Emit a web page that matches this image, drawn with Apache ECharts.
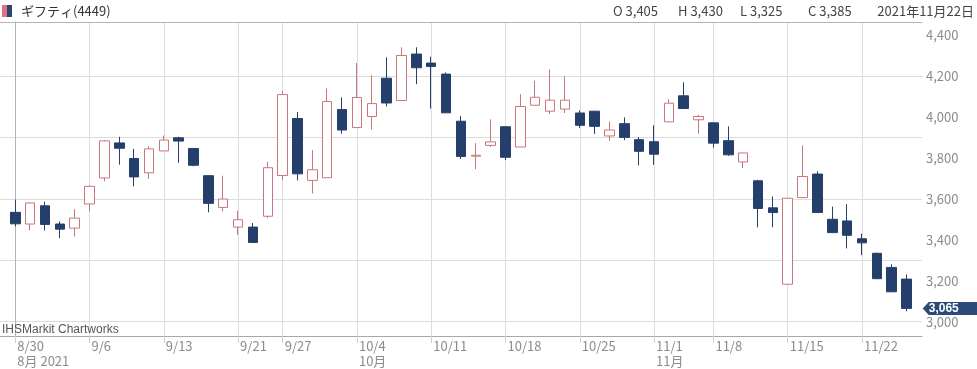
<!DOCTYPE html>
<html><head><meta charset="utf-8">
<script src="https://cdn.jsdelivr.net/npm/echarts@6/dist/echarts.min.js"></script>
<style>html,body{margin:0;padding:0;background:#fff}#c{width:977px;height:369px}</style>
</head><body><div id="c"></div>
<script>
const dates = ['8/30','8/31','9/1','9/2','9/3','9/6','9/7','9/8','9/9','9/10','9/13','9/14','9/15','9/16','9/17','9/21','9/22','9/24','9/27','9/28','9/29','9/30','10/1','10/4','10/5','10/6','10/7','10/8','10/11','10/12','10/13','10/14','10/15','10/18','10/19','10/20','10/21','10/22','10/25','10/26','10/27','10/28','10/29','11/1','11/2','11/4','11/5','11/8','11/9','11/10','11/11','11/12','11/15','11/16','11/17','11/18','11/19','11/22','11/24','11/25','11/26'];
const opens  = [3534,3477,3566,3477,3457,3575,3702,3873,3797,3727,3834,3898,3846,3713,3558,3462,3462,3515,3714,3992,3690,3703,4036,3948,4002,4189,4080,4307,4263,4209,3979,3808,3861,3952,3853,4057,4028,4038,4019,4028,3907,3967,3889,3879,3976,4103,3986,3971,3884,3780,3688,3556,3183,3606,3721,3500,3492,3405,3334,3265,3208];
const closes = [3478,3580,3475,3452,3506,3661,3883,3847,3707,3844,3887,3882,3764,3578,3599,3498,3387,3752,4109,3722,3742,4075,3936,4095,4065,4068,4300,4240,4246,4020,3807,3813,3878,3803,4051,4096,4082,4082,3959,3954,3936,3900,3832,3818,4067,4041,4002,3872,3815,3824,3553,3533,3603,3709,3533,3435,3422,3385,3210,3146,3065];
const lows   = [3465,3446,3446,3408,3416,3539,3686,3767,3661,3697,3834,3776,3759,3534,3539,3424,3387,3506,3691,3690,3626,3703,3918,3948,3939,4051,4080,4160,4041,4020,3794,3745,3853,3789,3853,4057,4015,4019,3946,3917,3884,3886,3763,3766,3976,4041,3918,3850,3810,3750,3461,3461,3183,3606,3533,3435,3358,3325,3210,3146,3051];
const highs  = [3596,3582,3586,3490,3550,3665,3887,3903,3844,3857,3909,3903,3846,3713,3713,3542,3482,3780,4127,4024,3838,4139,4095,4263,4204,4291,4340,4340,4294,4217,4005,3872,3988,3952,4111,4177,4232,4197,4032,4028,3978,3998,3902,3959,4087,4169,4010,3971,3954,3824,3693,3611,3603,3861,3735,3562,3574,3430,3337,3280,3231];
const weekTickIdx = [0,5,10,15,18,23,28,33,38,43,47,52,57];
const monthLabels = {0:'8月 2021', 23:'10月', 43:'11月'};
const yTicks = [3000,3200,3400,3600,3800,4000,4200,4400];
const titleText = 'ギフティ(4449)';
const headerIdx = 57;
const headerDate = '2021年11月22日';
const creditText = 'IHSMarkit Chartworks';

const UP = '#c7767d', DOWN = '#243f6b', FRAME = '#b4b4b4';
const NARROW = "'Liberation Sans Narrow','Arial Narrow','Noto Sans CJK JP',sans-serif";
const fmt = v => v.toLocaleString('en-US');
const candle = dates.map((d,i)=>[i, opens[i], closes[i], lows[i], highs[i]]);
const last = dates.length - 1;
const X_MIN = -1.029, X_MAX = 61.04;

const chart = echarts.init(document.getElementById('c'), null, {renderer:'canvas'});
chart.setOption({
  animation:false,
  backgroundColor:'#fff',
  grid:{left:-1, right:55, top:22, bottom:33, show:false},
  xAxis:[{
    type:'value', min:X_MIN, max:X_MAX, position:'bottom',
    axisLine:{show:true, lineStyle:{color:'#a8a8a8'}},
    axisTick:{show:true, customValues:weekTickIdx, length:7, lineStyle:{color:'#d0d0d0'}},
    splitLine:{show:true, customValues:weekTickIdx, lineStyle:{color:'#dcdcdc'}},
    axisLabel:{show:true, customValues:weekTickIdx, align:'left', verticalAlign:'top', margin:3,
      padding:[0,0,0,2], lineHeight:15, fontSize:13, color:'#8c8c8c', fontFamily:NARROW,
      formatter:v=>{const i=Math.round(v); return dates[i] + (monthLabels[i] ? '\n'+monthLabels[i] : '');}}
  },{
    type:'value', min:X_MIN, max:X_MAX, position:'top',
    axisLine:{show:true, lineStyle:{color:FRAME}},
    axisTick:{show:false}, axisLabel:{show:false}, splitLine:{show:false}
  }],
  yAxis:{
    type:'value', position:'right', min:2930.2, max:4463.5, scale:true,
    axisLine:{show:true, lineStyle:{color:FRAME}}, axisTick:{show:false},
    splitLine:{show:true, customValues:yTicks, lineStyle:{color:'#dcdcdc'}},
    axisLabel:{show:true, customValues:yTicks, margin:4, fontSize:13, color:'#8c8c8c', fontFamily:NARROW, formatter:v=>fmt(v)}
  },
  series:[{
    type:'candlestick',
    xAxisIndex:0,
    data:candle,
    encode:{x:0, y:[1,2,3,4]},
    barWidth:10,
    itemStyle:{color:'#ffffff', color0:DOWN, borderColor:UP, borderColor0:DOWN, borderWidth:1},
    markPoint:{
      silent:true,
      symbol:'path://M0,6.5L6.5,0L60,0L60,13L6.5,13Z',
      symbolKeepAspect:false,
      symbolSize:[55,13],
      symbolOffset:[43.7,0],
      itemStyle:{color:'#2b4a78'},
      label:{show:true, position:'inside', offset:[-6.5,0], color:'#fff', fontSize:12, fontWeight:'bold', fontFamily:"'Liberation Sans',sans-serif", formatter:()=>fmt(closes[last])},
      data:[{coord:[last, closes[last]], value:closes[last]}]
    }
  }],
  graphic:[
    {type:'rect', shape:{x:2, y:5, width:5, height:12}, style:{fill:'#e0737d'}},
    {type:'rect', shape:{x:7, y:5, width:5, height:12}, style:{fill:'#2b4573'}},
    {type:'text', x:21, y:11, style:{text:titleText, fontSize:13, fontFamily:NARROW, fill:'#333', verticalAlign:'middle'}},
    {type:'text', x:613, y:11, style:{text:'O '+fmt(opens[headerIdx]), fontSize:13, fontFamily:NARROW, fill:'#444', verticalAlign:'middle'}},
    {type:'text', x:678, y:11, style:{text:'H '+fmt(highs[headerIdx]), fontSize:13, fontFamily:NARROW, fill:'#444', verticalAlign:'middle'}},
    {type:'text', x:740, y:11, style:{text:'L '+fmt(lows[headerIdx]), fontSize:13, fontFamily:NARROW, fill:'#444', verticalAlign:'middle'}},
    {type:'text', x:808, y:11, style:{text:'C '+fmt(closes[headerIdx]), fontSize:13, fontFamily:NARROW, fill:'#444', verticalAlign:'middle'}},
    {type:'text', x:974, y:11, style:{text:headerDate, fontSize:13, fontFamily:NARROW, fill:'#444', align:'right', verticalAlign:'middle'}},
    {type:'text', x:2, y:330, z:10, style:{text:creditText, fontSize:12, fontFamily:"'Liberation Sans',sans-serif", fill:'#555', verticalAlign:'middle'}}
  ]
});
</script></body></html>
